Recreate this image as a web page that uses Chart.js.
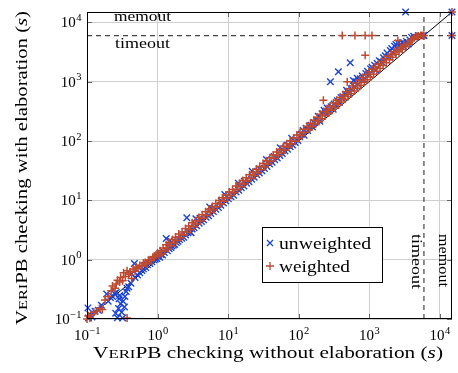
<!DOCTYPE html>
<html>
<head>
<meta charset="utf-8">
<script src="https://cdn.jsdelivr.net/npm/chart.js@4.4.1/dist/chart.umd.min.js"></script>
<style>
  html, body { margin: 0; padding: 0; background: #fff; }
  #wrap { width: 458px; height: 373px; }
</style>
</head>
<body>
<div id="wrap"><canvas id="c"></canvas></div>
<script>
// limits (seconds)
const axisMin = 0.1;
const memout = 15000;
const timeout = 6000;
const decades = [-1, 0, 1, 2, 3, 4];

// [without elaboration, with elaboration]
const unweighted = [
  [0.103,0.154],[0.105,0.104],[0.11,0.12],[0.118,0.108],[0.13,0.135],[0.145,0.14],[0.16,0.17],
  [0.19,0.265],[0.2,0.2],[0.215,0.23],[0.23,0.24],[0.245,0.27],[0.26,0.28],[0.255,0.125],
  [0.27,0.105],[0.28,0.15],[0.285,0.22],[0.29,0.25],[0.3,0.18],[0.31,0.13],[0.32,0.104],
  [0.325,0.2],[0.34,0.16],[0.345,0.24],[0.36,0.29],[0.37,0.33],[0.39,0.35],[0.42,0.4],
  [0.43,0.58],[0.47,0.86],[0.48,0.5],[0.52,0.55],[0.56,0.6],[0.6,0.66],[0.63,0.7],[0.68,0.74],
  [0.72,0.82],[0.78,0.86],[0.83,0.92],[0.88,1.0],[0.93,1.02],
  [0.98,1.05],[1.03,1.12],[1.08,1.1],[1.12,1.22],[1.18,1.2],[1.25,1.32],[1.33,2.27],[1.38,1.42],
  [1.46,1.53],[1.5,2.1],[1.55,1.6],[1.6,1.7],[1.68,1.76],[1.75,1.8],[1.85,1.95],[1.95,2.05],
  [2.05,2.2],[2.2,2.3],[2.35,2.4],[2.5,2.62],[2.6,5.1],[2.7,2.85],[2.85,2.95],[3.0,2.85],
  [3.1,3.3],[3.3,3.45],[3.5,4.9],[3.6,3.75],[3.9,4.1],[4.0,5.0],[4.2,4.4],[4.5,4.7],[4.9,5.2],
  [5.3,5.5],[5.5,7.7],[5.7,6.0],[6.0,7.3],[6.2,6.5],[6.7,7.1],[7.3,7.6],[7.9,8.3],[8.0,9.9],
  [8.6,9.0],[9.0,12.6],[9.3,9.8],[10.1,10.6],[11,11.5],[12,12.2],[13,13.8],[14,19.5],
  [14.2,14.8],[15.4,16.3],[16.8,17.5],[17,21],[18.3,19.4],[19.8,20.6],[21.6,22.8],[22,31],
  [23.5,24.5],[25.6,27],[27.8,29],[28,34],[30.2,31.5],[32.8,34.6],[35,49],[35.7,37.2],
  [38.8,41],[42.2,44],[45,55],[45.9,48.4],[49.9,52],[54.3,57.3],[55,77],[59,61.5],
  [64.2,67.7],[69.8,72.8],[70,86],[75.9,80],[80,112],[82.5,86],[89.7,94.6],[97.6,102],
  [104,118],[110,130],[116,150],[120,125],[128,165],[135,150],[142,178],[150,185],[158,172],
  [165,205],[180,220],[190,262],[200,215],[215,290],[230,330],[240,300],[255,360],[270,320],
  [283,1000],[290,380],[310,345],[320,420],[340,400],[355,480],[367,1480],[380,450],[400,540],
  [430,560],[460,610],[480,720],[500,680],[520,640],[540,2100],[560,760],[600,1050],[620,820],
  [650,1000],[680,1150],[700,900],[750,1120],[800,1250],[850,1080],[900,1380],[950,1500],
  [1000,1320],[1050,1650],[1100,1750],[1200,1900],[1250,1560],[1300,2050],[1400,2250],
  [1500,2150],[1600,2550],[1700,2750],[1800,3050],[1900,2650],[2000,3350],[2100,3650],
  [2200,3050],[2300,3950],[2400,4250],[2500,3700],[2600,4500],[2700,4050],[2800,4350],
  [3000,4600],[3100,3950],[3200,4400],[3300,15000],[3400,4750],[3600,4350],[3800,5050],
  [4000,5600],[4300,5850],[4600,5600],[5000,6000],[5400,5900],[5900,6050],[6000,6000],
  [15000,6000],[15000,15000]
];

const weighted = [
  [0.1,0.1],[0.104,0.112],[0.11,0.104],[0.115,0.118],[0.125,0.13],[0.14,0.137],[0.15,0.15],
  [0.165,0.145],[0.18,0.21],[0.2,0.24],[0.22,0.3],[0.23,0.36],[0.25,0.33],[0.26,0.39],
  [0.27,0.45],[0.29,0.42],[0.3,0.5],[0.32,0.44],[0.33,0.6],[0.35,0.52],[0.37,0.104],
  [0.37,0.65],[0.39,0.56],[0.41,0.62],[0.43,0.48],[0.45,0.7],[0.48,0.64],[0.5,0.75],
  [0.53,0.72],[0.56,0.8],[0.6,0.78],[0.63,0.88],[0.67,0.9],[0.7,0.85],[0.74,0.98],
  [0.78,1.0],[0.82,0.97],[0.86,1.1],[0.9,1.12],[0.95,1.2],
  [1.0,1.3],[1.05,1.16],[1.09,1.42],[1.14,1.25],[1.2,1.58],[1.27,1.4],[1.33,1.78],[1.4,1.52],
  [1.46,1.95],[1.55,1.72],[1.63,2.2],[1.72,1.9],[1.8,2.38],[1.9,2.1],[2.0,2.7],[2.12,2.35],
  [2.23,2.92],[2.36,2.6],[2.5,3.35],[2.62,2.9],[2.77,3.7],[2.93,3.2],[3.1,4.2],[3.26,3.6],
  [3.45,4.55],[3.64,4.0],[3.85,5.15],[4.06,4.5],[4.3,5.7],[4.55,5.0],[4.8,6.45],[5.07,5.55],
  [5.35,7.1],[5.66,6.3],[5.98,7.9],[6.32,6.95],[6.7,8.9],[7.06,7.8],[7.47,9.95],[7.9,8.7],
  [8.34,11.1],[8.82,9.7],[9.32,12.3],[9.85,10.9],[10.4,13.9],[11,12.1],[11.6,15.3],[12.3,13.6],
  [13,17.4],[13.7,15.1],[14.5,19.2],[15.3,16.9],[16.2,21.7],[17.1,18.9],[18.1,24],[19.1,21.2],
  [20.2,27],[21.3,23.4],[22.5,29.8],[23.8,26.3],[25.2,33.6],[26.6,29.3],[28.1,37.2],[29.7,32.8],
  [31.4,42],[33.2,36.6],[35.1,46.5],[37.1,41],[39.2,52.5],[41.4,45.6],[43.8,58],[46.3,51.1],
  [48.9,65.4],[51.7,57],[54.6,72.3],[57.7,63.7],[61,81.4],[64.5,71],[68.1,90.2],[72,79.6],
  [76.1,101],[80.4,88.9],[85,113],[89.8,99],[94.9,126],[100,111],
  [105,140],[112,124],[118,158],[125,140],[132,178],[140,156],[148,200],[156,174],[165,224],
  [174,194],[184,252],[194,214],[205,282],[216,238],[225,490],[228,315],[240,268],[253,350],
  [267,296],[282,392],[297,330],[313,438],[330,368],[348,488],[367,410],[387,545],[408,455],
  [417,6000],[430,605],[453,505],[478,680],[490,1000],[504,565],[531,760],[560,630],
  [590,850],[622,700],[630,6000],[656,950],[692,780],[730,1060],[770,870],[812,1180],
  [856,970],[880,2800],[880,6000],[900,1320],[950,1080],[1000,1470],[1050,1200],
  [1100,1620],[1100,6000],[1160,1340],[1220,1800],[1290,1500],[1360,2000],[1430,1680],
  [1500,2200],[1580,1880],[1670,2450],[1760,2100],[1850,2700],[1950,2350],[2050,2950],
  [2160,2600],[2280,3200],[2400,2900],[2530,3500],[2560,4950],[2660,3200],[2800,3800],
  [2950,3500],[3100,4150],[3300,3900],[3500,4500],[3700,4300],[3900,4900],[4100,5200],
  [4400,5500],[4700,5800],[5000,5900],[5400,6000],[5800,6000],[6000,6000],
  [15000,6000],[15000,15000]
];

const blue = '#1a43d9';
const red = '#be4a31';
const SERIF = '"Liberation Serif", "DejaVu Serif", serif';

function font(sz, it) { return (it ? 'italic ' : '') + sz + 'px ' + SERIF; }

function pts(list) { return list.map(p => ({ x: p[0], y: p[1] })); }

// draw a row of text pieces [text, size, italic] stretched to width w, left at x
function runs(ctx, parts, x, y, w) {
  let tot = 0;
  parts.forEach(p => { ctx.font = font(p[1], p[2]); tot += ctx.measureText(p[0]).width; });
  const k = w ? w / tot : 1;
  ctx.save();
  ctx.translate(x, y);
  ctx.scale(k, 1);
  let cx = 0;
  parts.forEach(p => {
    ctx.font = font(p[1], p[2]);
    ctx.fillText(p[0], cx, 0);
    cx += ctx.measureText(p[0]).width;
  });
  ctx.restore();
}

function pow10(ctx, e, x, y, align) {
  const ex = e < 0 ? '\u2212' + (-e) : String(e);
  ctx.font = font(15);
  const w1 = ctx.measureText('10').width;
  ctx.font = font(10.5);
  const w2 = ctx.measureText(ex).width;
  const x0 = align === 'right' ? x - w1 - w2 : x - (w1 + w2) / 2;
  ctx.font = font(15);
  ctx.fillText('10', x0, y);
  ctx.font = font(10.5);
  ctx.fillText(ex, x0 + w1 + 0.5, y - 6.5);
}

function mark(ctx, style, x, y) {
  ctx.beginPath();
  if (style === 'x') {
    ctx.moveTo(x - 3, y - 3); ctx.lineTo(x + 3, y + 3);
    ctx.moveTo(x - 3, y + 3); ctx.lineTo(x + 3, y - 3);
  } else {
    ctx.moveTo(x - 4, y); ctx.lineTo(x + 4, y);
    ctx.moveTo(x, y - 4); ctx.lineTo(x, y + 4);
  }
  ctx.stroke();
}

const decor = {
  id: 'decor',
  afterDraw(chart) {
    const { ctx, chartArea: a, scales: { x, y } } = chart;
    ctx.save();
    // inner ticks
    ctx.strokeStyle = '#666';
    ctx.lineWidth = 1;
    decades.forEach(e => {
      const px = Math.round(x.getPixelForValue(10 ** e)) + 0.5;
      const py = Math.round(y.getPixelForValue(10 ** e)) + 0.5;
      ctx.beginPath();
      ctx.moveTo(px, a.bottom); ctx.lineTo(px, a.bottom - 5);
      ctx.moveTo(px, a.top); ctx.lineTo(px, a.top + 5);
      ctx.moveTo(a.left, py); ctx.lineTo(a.left + 5, py);
      ctx.moveTo(a.right, py); ctx.lineTo(a.right - 5, py);
      ctx.stroke();
    });
    // frame
    ctx.strokeStyle = '#000';
    ctx.strokeRect(a.left + 0.5, a.top + 0.5, a.width - 1, a.height - 1);

    // tick labels
    ctx.fillStyle = '#000';
    ctx.textBaseline = 'alphabetic';
    decades.forEach(e => {
      pow10(ctx, e, x.getPixelForValue(10 ** e), a.bottom + 21, 'center');
      pow10(ctx, e, a.left - 6, y.getPixelForValue(10 ** e) + 5, 'right');
    });

    // axis titles
    runs(ctx, [['V', 16.5], ['ERI', 13], ['PB checking without elaboration (', 16.5], ['s', 16.5, true], [')', 16.5]],
      93, 358, 350);
    ctx.save();
    ctx.translate(27, 325);
    ctx.rotate(-Math.PI / 2);
    runs(ctx, [['V', 16.5], ['ERI', 13], ['PB checking with elaboration (', 16.5], ['s', 16.5, true], [')', 16.5]],
      0, 0, 314);
    ctx.restore();

    // limit labels
    const ym = y.getPixelForValue(memout), yt = y.getPixelForValue(timeout);
    runs(ctx, [['memout', 15]], a.left + 27, ym + 9, 57);
    runs(ctx, [['timeout', 15]], a.left + 28, yt + 12, 55);
    const xm = x.getPixelForValue(memout), xt = x.getPixelForValue(timeout);
    ctx.save();
    ctx.translate(xt - 12, a.top + 222);
    ctx.rotate(Math.PI / 2);
    runs(ctx, [['timeout', 15]], 0, 0, 55);
    ctx.restore();
    ctx.save();
    ctx.translate(xm - 13, a.top + 222);
    ctx.rotate(Math.PI / 2);
    runs(ctx, [['memout', 15]], 0, 0, 53);
    ctx.restore();

    // legend
    ctx.fillStyle = '#fff';
    ctx.fillRect(262, 227, 120, 55);
    ctx.strokeStyle = '#000';
    ctx.lineWidth = 1;
    ctx.strokeRect(262.5, 227.5, 120, 55);
    ctx.lineWidth = 1.3;
    ctx.strokeStyle = blue;
    mark(ctx, 'x', 270, 243);
    ctx.strokeStyle = red;
    mark(ctx, '+', 270, 266);
    ctx.fillStyle = '#000';
    runs(ctx, [['unweighted', 17]], 279, 249, 92);
    runs(ctx, [['weighted', 17]], 279, 272, 71);
    ctx.restore();
  }
};

const lineStyle = { type: 'line', showLine: true, pointRadius: 0, fill: false, order: 3 };

new Chart(document.getElementById('c'), {
  type: 'scatter',
  data: {
    datasets: [
      { label: 'unweighted', data: pts(unweighted), pointStyle: 'crossRot', pointRadius: 4.6,
        borderColor: blue, backgroundColor: blue, pointBorderWidth: 1.4, order: 2, clip: false },
      { label: 'weighted', data: pts(weighted), pointStyle: 'cross', pointRadius: 4,
        borderColor: red, backgroundColor: red, pointBorderWidth: 1.5, order: 1, clip: false },
      { ...lineStyle, data: [{ x: axisMin, y: axisMin }, { x: memout, y: memout }],
        borderColor: '#000', borderWidth: 1 },
      { ...lineStyle, data: [{ x: axisMin, y: timeout }, { x: memout, y: timeout }],
        borderColor: '#444', borderWidth: 1.2, borderDash: [5, 4] },
      { ...lineStyle, data: [{ x: timeout, y: axisMin }, { x: timeout, y: memout }],
        borderColor: '#444', borderWidth: 1.2, borderDash: [5, 4] }
    ]
  },
  options: {
    responsive: true,
    maintainAspectRatio: false,
    animation: false,
    devicePixelRatio: 1,
    layout: { padding: { left: 87, top: 12, right: 2, bottom: 54 } },
    plugins: { legend: { display: false }, tooltip: { enabled: false } },
    scales: {
      x: {
        type: 'logarithmic', min: axisMin, max: memout,
        afterBuildTicks: s => { s.ticks = decades.map(e => ({ value: 10 ** e })); },
        ticks: { display: false },
        grid: { color: '#cfcfcf', lineWidth: 1, drawTicks: false },
        border: { display: false }
      },
      y: {
        type: 'logarithmic', min: axisMin, max: memout,
        afterBuildTicks: s => { s.ticks = decades.map(e => ({ value: 10 ** e })); },
        ticks: { display: false },
        grid: { color: '#cfcfcf', lineWidth: 1, drawTicks: false },
        border: { display: false }
      }
    }
  },
  plugins: [decor]
});
</script>
</body>
</html>
